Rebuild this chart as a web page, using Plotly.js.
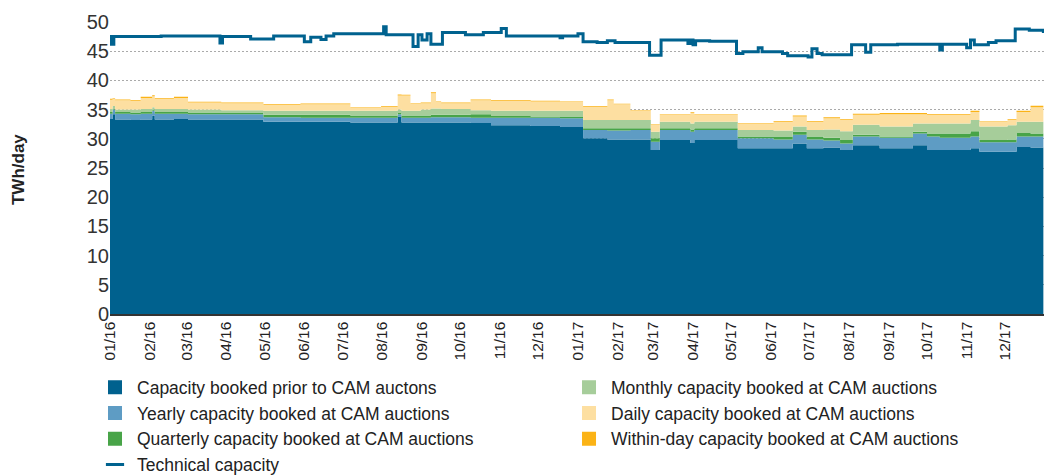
<!DOCTYPE html>
<html>
<head>
<meta charset="utf-8">
<script src="https://cdn.plot.ly/plotly-3.0.1.min.js"></script>
<style>
  html, body { margin: 0; padding: 0; background: #fff; }
  #chart { width: 1045px; height: 475px; }
</style>
</head>
<body>
<div id="chart"></div>
<script>
// booked capacity, TWh/day (stacked)
const dates = [
    "2016-01-01", "2016-01-03", "2016-01-05", "2016-01-17", "2016-01-25",
    "2016-02-03", "2016-02-05", "2016-02-20", "2016-03-02", "2016-03-28",
    "2016-04-30", "2016-05-29", "2016-07-07", "2016-07-31", "2016-08-13",
    "2016-08-16", "2016-08-23", "2016-08-31", "2016-09-08", "2016-09-12",
    "2016-09-16", "2016-10-09", "2016-10-25", "2016-11-25", "2016-12-18",
    "2017-01-05", "2017-01-24", "2017-01-29", "2017-02-11", "2017-02-27",
    "2017-03-06", "2017-03-30", "2017-04-02", "2017-05-06", "2017-06-03",
    "2017-06-18", "2017-06-29", "2017-07-12", "2017-07-25", "2017-08-04",
    "2017-08-25", "2017-09-20", "2017-10-01", "2017-10-11", "2017-11-04",
    "2017-11-11", "2017-12-03", "2017-12-10", "2017-12-21", "2017-12-31",
];
const priorCapacity = [
    33.4, 34.2, 33.3, 33.2, 33.3, 34.0, 33.3, 33.4, 33.3, 33.3,
    32.9, 32.9, 32.8, 32.8, 33.8, 32.8, 32.8, 32.8, 32.8, 32.8,
    32.8, 32.7, 32.3, 32.2, 32.0, 30.1, 29.9, 29.9, 29.9, 28.1,
    29.8, 29.3, 29.8, 28.4, 28.4, 29.2, 28.4, 28.5, 28.1, 28.9,
    28.4, 28.9, 28.1, 28.1, 28.4, 27.8, 27.8, 28.6, 28.5, 28.4,
];
const yearlyCam = [
    0.9, 0.8, 1.0, 1.0, 1.0, 0.8, 1.0, 0.9, 0.9, 0.9,
    0.8, 0.7, 0.8, 0.8, 0.4, 0.8, 0.8, 0.8, 0.9, 0.9,
    0.9, 0.9, 1.3, 1.4, 1.5, 1.4, 1.5, 1.5, 1.6, 1.4,
    1.7, 1.9, 1.7, 1.7, 1.5, 1.5, 1.5, 1.2, 1.1, 1.5,
    1.8, 2.0, 2.3, 2.1, 2.0, 1.6, 1.6, 1.8, 1.9, 2.0,
];
const quarterlyCam = [
    0.3, 0.2, 0.3, 0.3, 0.3, 0.2, 0.3, 0.3, 0.3, 0.3,
    0.4, 0.5, 0.4, 0.4, 0.2, 0.4, 0.4, 0.4, 0.4, 0.4,
    0.4, 0.6, 0.3, 0.2, 0.3, 0.3, 0.4, 0.4, 0.3, 0.6,
    0.3, 0.4, 0.3, 0.3, 0.5, 0.5, 0.5, 0.5, 0.6, 0.3,
    0.2, 0.3, 0.5, 0.7, 0.9, 0.4, 0.5, 0.6, 0.5, 0.5,
];
const monthlyCam = [
    0.5, 0.4, 0.4, 0.5, 0.5, 0.4, 0.5, 0.5, 0.5, 0.4,
    0.7, 0.7, 0.8, 0.8, 0.6, 0.8, 0.8, 1.0, 1.1, 1.1,
    1.0, 0.7, 0.9, 1.0, 1.0, 1.4, 1.4, 1.4, 1.4, 1.1,
    1.1, 1.0, 1.1, 1.1, 1.0, 0.9, 1.1, 1.4, 1.5, 1.7,
    1.7, 1.4, 1.7, 1.7, 1.9, 2.3, 2.4, 1.9, 2.0, 2.0,
];
const dailyCam = [
    1.6, 1.3, 1.6, 1.5, 1.9, 1.9, 1.7, 1.9, 1.2, 1.2,
    1.0, 1.1, 0.5, 0.7, 2.4, 2.6, 1.2, 1.1, 2.6, 1.1,
    1.0, 1.7, 1.7, 1.6, 1.5, 2.3, 3.4, 2.7, 1.6, 1.2,
    1.2, 1.8, 1.2, 1.1, 1.5, 1.7, 1.4, 1.9, 1.9, 1.7,
    2.1, 1.6, 1.5, 1.5, 1.4, 0.8, 0.9, 1.7, 2.5, 2.0,
];
const withinDayCam = [
    0.15, 0.1, 0.15, 0.15, 0.2, 0.15, 0.15, 0.2, 0.15, 0.1,
    0.1, 0.15, 0.1, 0.1, 0.2, 0.15, 0.1, 0.1, 0.15, 0.1,
    0.1, 0.15, 0.15, 0.1, 0.1, 0.1, 0.15, 0.1, 0.1, 0.1,
    0.1, 0.15, 0.1, 0.1, 0.15, 0.2, 0.15, 0.2, 0.15, 0.2,
    0.2, 0.2, 0.15, 0.15, 0.2, 0.1, 0.15, 0.2, 0.25, 0.2,
];

// technical capacity, TWh/day
const techDates = [
    "2016-01-01", "2016-01-02", "2016-01-04", "2016-02-10", "2016-03-27",
    "2016-03-29", "2016-04-20", "2016-05-08", "2016-06-01", "2016-06-06",
    "2016-06-14", "2016-06-18", "2016-06-24", "2016-08-02", "2016-08-04",
    "2016-08-25", "2016-08-29", "2016-09-01", "2016-09-05", "2016-09-08",
    "2016-09-17", "2016-10-05", "2016-10-19", "2016-11-02", "2016-11-06",
    "2016-12-18", "2016-12-20", "2017-01-01", "2017-01-05", "2017-01-16",
    "2017-01-24", "2017-01-30", "2017-02-26", "2017-03-07", "2017-03-28",
    "2017-03-30", "2017-04-01", "2017-04-03", "2017-04-14", "2017-05-05",
    "2017-05-10", "2017-05-22", "2017-05-25", "2017-06-10", "2017-06-14",
    "2017-06-30", "2017-07-03", "2017-07-07", "2017-07-11", "2017-08-03",
    "2017-08-14", "2017-08-18", "2017-09-08", "2017-10-11", "2017-10-13",
    "2017-11-01", "2017-11-04", "2017-11-07", "2017-11-18", "2017-11-24",
    "2017-12-09", "2017-12-20", "2017-12-31",
];
const techCapacity = [
    47.5, 46.2, 47.5, 47.6, 46.4,
    47.5, 47.1, 47.6, 46.6, 47.4,
    47.0, 47.6, 48.0, 49.2, 47.8,
    45.8, 47.8, 46.9, 48.0, 46.2,
    48.2, 47.8, 48.2, 48.9, 47.6,
    47.3, 47.6, 48.0, 46.6, 46.5,
    46.8, 46.5, 44.3, 46.9, 46.3,
    46.9, 46.1, 46.8, 46.7, 44.6,
    44.9, 45.6, 44.9, 44.6, 44.2,
    44.0, 45.4, 44.6, 44.4, 46.1,
    44.8, 46.1, 46.2, 45.2, 46.2,
    45.6, 46.9, 46.1, 46.5, 46.8,
    48.8, 48.6, 48.1,
];

const FONT = "Liberation Sans, Arial, sans-serif";

// stacked layers: [legend name, values, colour, legend column]
const layers = [
    ["Capacity booked prior to CAM auctons", priorCapacity, "#00618e", "legend"],
    ["Yearly capacity booked at CAM auctions", yearlyCam, "#5e9cc4", "legend"],
    ["Quarterly capacity booked at CAM auctions", quarterlyCam, "#48a448", "legend"],
    ["Monthly capacity booked at CAM auctions", monthlyCam, "#a6cd9a", "legend2"],
    ["Daily capacity booked at CAM auctions", dailyCam, "#fddfa1", "legend2"],
    ["Within-day capacity booked at CAM auctions", withinDayCam, "#fbb316", "legend2"],
];

const traces = [];
layers.forEach(([name, values, color]) => {
    traces.push({
        x: dates,
        y: values,
        name: name,
        type: "scatter",
        mode: "lines",
        stackgroup: "booked",
        line: { width: 0, shape: "hv", color: color },
        fillcolor: color,
        showlegend: false,
    });
});

traces.push({
    x: techDates,
    y: techCapacity,
    name: "Technical capacity",
    type: "scatter",
    mode: "lines",
    line: { width: 3, shape: "hv", color: "#00628f" },
    showlegend: false,
});

// legend-only entries so the swatches are small squares like the original
layers.forEach(([name, , color, legendId]) => {
    traces.push({
        x: [null],
        y: [null],
        name: name,
        type: "scatter",
        mode: "markers",
        marker: { symbol: "square", size: 14, color: color },
        legend: legendId,
    });
});
traces.push({
    x: [null],
    y: [null],
    name: "Technical capacity",
    type: "scatter",
    mode: "markers",
    marker: {
        symbol: "line-ew",
        size: 13,
        color: "#00628f",
        line: { width: 3, color: "#00628f" },
    },
    legend: "legend",
});

const legendBase = {
    orientation: "v",
    xref: "container",
    xanchor: "left",
    yref: "container",
    y: 0.2226,
    yanchor: "top",
    font: { family: FONT, size: 17.5, color: "#222" },
    itemwidth: 34,
    traceorder: "normal",
    bgcolor: "rgba(0,0,0,0)",
};

const layout = {
    width: 1045,
    height: 475,
    margin: { l: 110, r: 1, t: 22, b: 161, autoexpand: false },
    paper_bgcolor: "#fff",
    plot_bgcolor: "#fff",
    font: { family: FONT, color: "#222", size: 17 },
    showlegend: true,
    legend: { ...legendBase, x: 0.089 },
    legend2: { ...legendBase, x: 0.5426 },
    xaxis: {
        type: "date",
        range: ["2016-01-01", "2017-12-31 12:00"],
        tick0: "2016-01-01",
        dtick: "M1",
        tickformat: "%m/%y",
        tickangle: -90,
        tickfont: { family: FONT, size: 15.5, color: "#222" },
        showgrid: false,
        showline: true,
        linecolor: "#333",
        linewidth: 1.5,
        ticks: "",
        zeroline: false,
    },
    yaxis: {
        range: [0, 50],
        dtick: 5,
        tickfont: { family: FONT, size: 20, color: "#333" },
        showgrid: true,
        gridcolor: "#aaaaaa",
        griddash: "1.5px,2.5px",
        gridwidth: 1,
        zeroline: false,
        showline: false,
        ticks: "",
    },
    // axis title placed by hand so it sits far left like the original
    annotations: [
        {
            text: "<b>TWh/day</b>",
            textangle: -90,
            xref: "paper",
            yref: "paper",
            x: -0.0985,
            y: 0.493,
            xanchor: "center",
            yanchor: "middle",
            showarrow: false,
            font: { family: FONT, size: 17, color: "#222" },
        },
    ],
};

Plotly.newPlot("chart", traces, layout, { displayModeBar: false, staticPlot: true });
</script>
</body>
</html>
